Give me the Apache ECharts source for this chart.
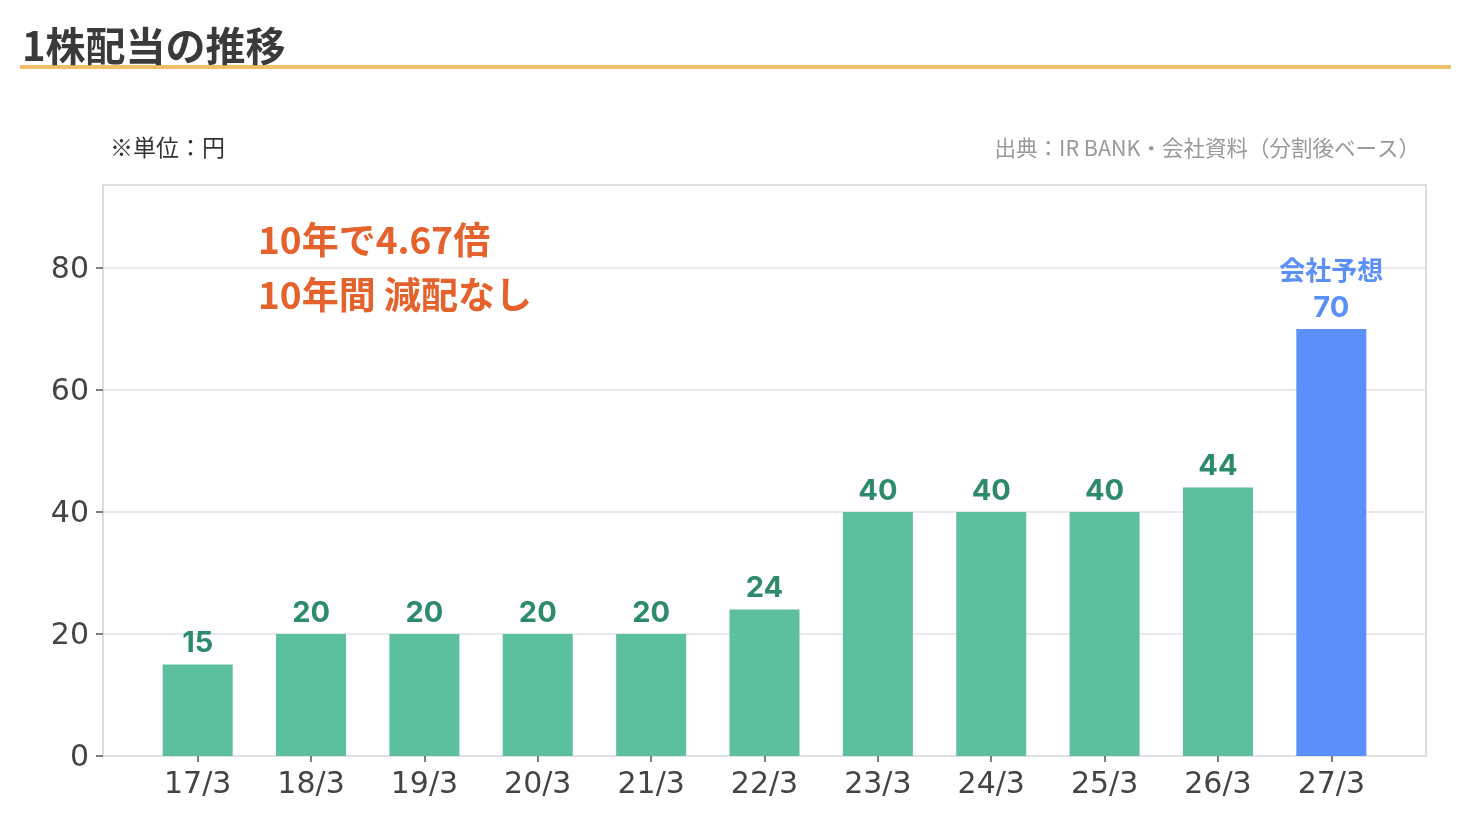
<!DOCTYPE html>
<html>
<head>
<meta charset="utf-8">
<script src="https://cdn.jsdelivr.net/npm/echarts@6/dist/echarts.min.js"></script>
<style>
  html, body { margin: 0; padding: 0; background: #fff; }
  #chart { width: 1470px; height: 840px; }
</style>
</head>
<body>
<div id="chart"></div>
<script>
// data
const categories = ['17/3', '18/3', '19/3', '20/3', '21/3', '22/3', '23/3', '24/3', '25/3', '26/3', '27/3'];
const dividends = [15, 20, 20, 20, 20, 24, 40, 40, 40, 44, 70];
const isForecast = [false, false, false, false, false, false, false, false, false, false, true];
const yTicks = [0, 80, 20]; // min, max, interval

const FONT = '"Noto Sans CJK JP", "Noto Sans", sans-serif';
const NUM_FONT = '"DejaVu Sans", "Noto Sans CJK JP", sans-serif';
const VAL_FONT = 'Inter, "Noto Sans CJK JP", sans-serif';
const GREEN = '#5cbf9f';
const GREEN_TEXT = '#2e8a6c';
const BLUE = '#5b8ff9';

//forecast bar gets its own colour and a two line label
const barData = dividends.map((v, i) => {
    if (!isForecast[i]) {
        return v;
    }
    return {
        value: v,
        itemStyle: { color: BLUE },
        label: {
            distance: 2,
            formatter: '{a|会社予想}\n{b|' + v + '}',
            rich: {
                a: { fontSize: 26, fontWeight: 'bold', color: BLUE, fontFamily: FONT, lineHeight: 38 },
                b: { fontSize: 29, fontWeight: 'bold', color: BLUE, fontFamily: VAL_FONT, lineHeight: 38 }
            }
        }
    };
});

const chart = echarts.init(document.getElementById('chart'));

chart.setOption({
    backgroundColor: '#fff',
    animation: false,
    title: [
        {
            text: '1株配当の推移', left: 17, top: 21,
            textStyle: { fontSize: 40, fontWeight: 'bold', color: '#3a3a3a', fontFamily: FONT }
        },
        {
            text: '※単位：円', left: 105, top: 131,
            textStyle: { fontSize: 23, fontWeight: 'normal', color: '#333', fontFamily: FONT }
        },
        {
            text: '出典：IR BANK・会社資料（分割後ベース）', right: 45, top: 132,
            textStyle: { fontSize: 21.5, fontWeight: 'normal', color: '#999', fontFamily: FONT }
        },
        {
            text: '10年で4.67倍\n10年間 減配なし', left: 253, top: 207,
            textStyle: { fontSize: 37, fontWeight: 'bold', color: '#e5622c', fontFamily: FONT, lineHeight: 55 }
        }
    ],
    graphic: [
        { type: 'rect', shape: { x: 20, y: 65, width: 1431, height: 4 }, style: { fill: '#f2bf69' } }
    ],
    grid: [
        // frame
        { left: 103, right: 44, top: 185, bottom: 84, show: true, borderColor: '#dddddd', borderWidth: 2, backgroundColor: '#fff' },
        // y scale + split lines
        { left: 103, right: 44, top: 268, bottom: 84 },
        // bars
        { left: 141, right: 82, top: 268, bottom: 84 }
    ],
    xAxis: [
        { gridIndex: 0, type: 'value', show: false },
        { gridIndex: 1, type: 'value', show: false },
        {
            gridIndex: 2, type: 'category', data: categories,
            axisLine: { show: false },
            axisTick: { show: true, alignWithLabel: true, length: 6, lineStyle: { color: '#555', width: 1.5 } },
            axisLabel: { fontSize: 30, color: '#444', fontFamily: NUM_FONT, margin: 14 }
        }
    ],
    yAxis: [
        { gridIndex: 0, type: 'value', show: false },
        {
            gridIndex: 1, type: 'value', min: yTicks[0], max: yTicks[1], interval: yTicks[2],
            axisLine: { show: false },
            axisTick: { show: true, length: 7, lineStyle: { color: '#555', width: 1.5 } },
            axisLabel: {
                margin: 14,
                formatter: '{v|{value}}',
                rich: { v: { fontSize: 30, color: '#444', fontFamily: NUM_FONT, padding: [5, 0, 0, 0] } }
            },
            splitLine: { show: true, lineStyle: { color: '#e2e2e2', width: 1.5 } }
        },
        { gridIndex: 2, type: 'value', min: yTicks[0], max: yTicks[1], show: false }
    ],
    series: [
        {
            type: 'bar', xAxisIndex: 2, yAxisIndex: 2,
            data: barData,
            barWidth: 70,
            itemStyle: { color: GREEN },
            label: {
                show: true, position: 'top', distance: 6.5,
                fontSize: 29, fontWeight: 'bold', color: GREEN_TEXT, fontFamily: VAL_FONT
            }
        }
    ]
});
</script>
</body>
</html>
